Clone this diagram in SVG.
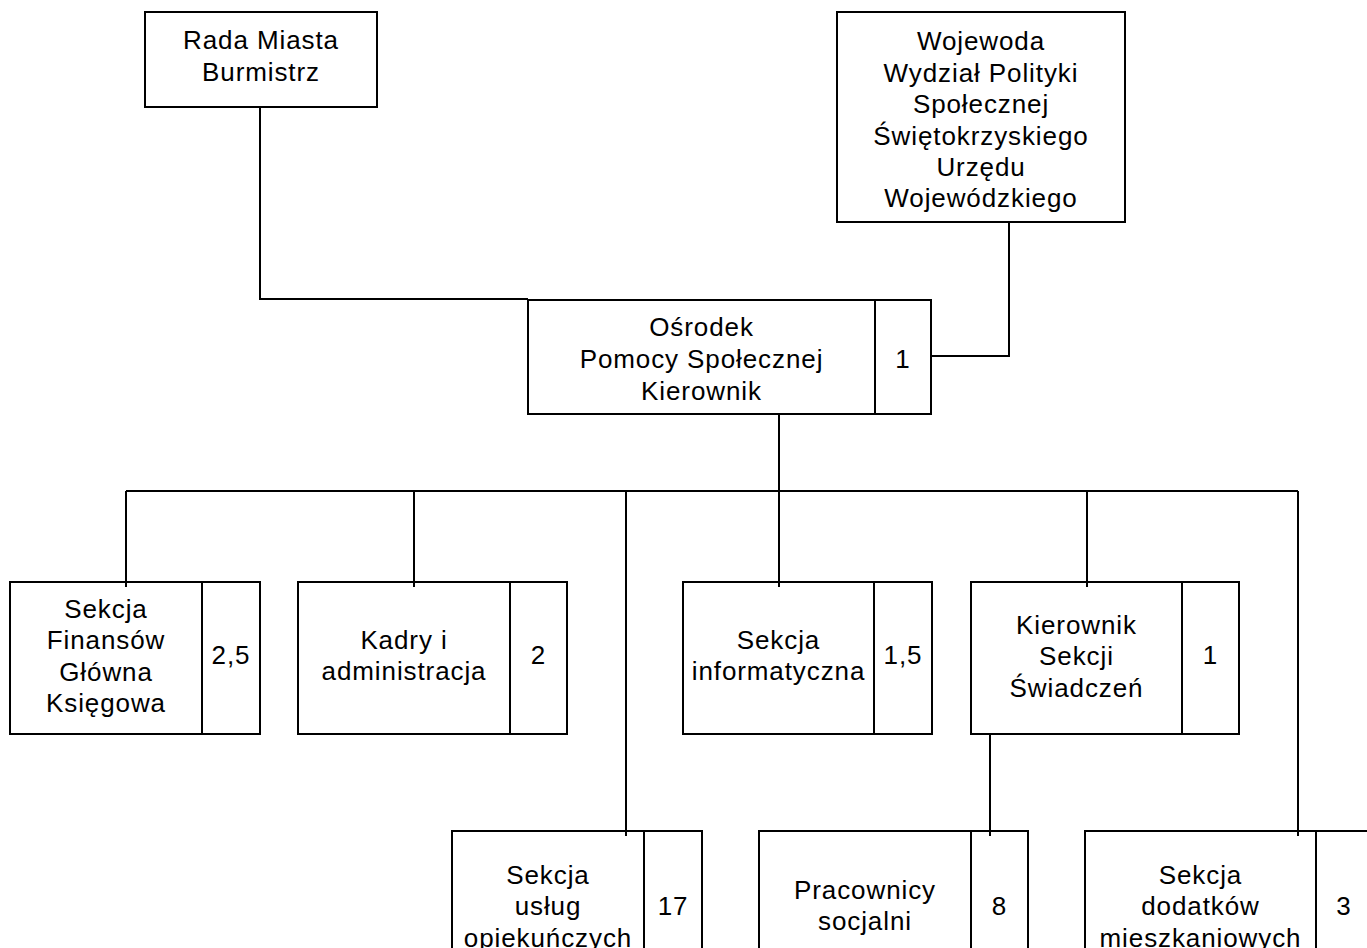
<svg xmlns="http://www.w3.org/2000/svg" width="1367" height="948" viewBox="0 0 1367 948">
<style>
.box{fill:#fff;stroke:#000;stroke-width:2}
.div{stroke:#000;stroke-width:2}
.t{font-family:"Liberation Sans",Arial,sans-serif;font-size:26px;letter-spacing:0.9px;text-anchor:middle;fill:#000}
.c{fill:none;stroke:#000;stroke-width:2}
</style>
<rect width="1367" height="948" fill="#fff"/>
<g id="rada">
<rect class="box" x="145" y="12" width="232" height="95"/>
<text class="t" x="261" y="49">Rada Miasta</text>
<text class="t" x="261" y="81">Burmistrz</text>
</g>
<g id="wojewoda">
<rect class="box" x="837" y="12" width="288" height="210"/>
<text class="t" x="981" y="50">Wojewoda</text>
<text class="t" x="981" y="81.5">Wydział Polityki</text>
<text class="t" x="981" y="113">Społecznej</text>
<text class="t" x="981" y="144.5">Świętokrzyskiego</text>
<text class="t" x="981" y="176">Urzędu</text>
<text class="t" x="981" y="207">Wojewódzkiego</text>
</g>
<g id="osrodek">
<rect class="box" x="528" y="300" width="403" height="114"/>
<line class="div" x1="875" y1="300" x2="875" y2="414"/>
<text class="t" x="701.5" y="335.5">Ośrodek</text>
<text class="t" x="701.5" y="367.5">Pomocy Społecznej</text>
<text class="t" x="701.5" y="399.5">Kierownik</text>
<text class="t" x="903" y="368">1</text>
</g>
<g id="finanse">
<rect class="box" x="10" y="582" width="250" height="152"/>
<line class="div" x1="202" y1="582" x2="202" y2="734"/>
<text class="t" x="106" y="617.5">Sekcja</text>
<text class="t" x="106" y="649">Finansów</text>
<text class="t" x="106" y="680.5">Główna</text>
<text class="t" x="106" y="712">Księgowa</text>
<text class="t" x="231" y="664">2,5</text>
</g>
<g id="kadry">
<rect class="box" x="298" y="582" width="269" height="152"/>
<line class="div" x1="510" y1="582" x2="510" y2="734"/>
<text class="t" x="404" y="649">Kadry i</text>
<text class="t" x="404" y="680">administracja</text>
<text class="t" x="538.5" y="664">2</text>
</g>
<g id="informatyczna">
<rect class="box" x="683" y="582" width="249" height="152"/>
<line class="div" x1="874" y1="582" x2="874" y2="734"/>
<text class="t" x="778.5" y="649">Sekcja</text>
<text class="t" x="778.5" y="680">informatyczna</text>
<text class="t" x="903" y="664">1,5</text>
</g>
<g id="swiadczenia">
<rect class="box" x="971" y="582" width="268" height="152"/>
<line class="div" x1="1182" y1="582" x2="1182" y2="734"/>
<text class="t" x="1076.5" y="633.5">Kierownik</text>
<text class="t" x="1076.5" y="665">Sekcji</text>
<text class="t" x="1076.5" y="696.5">Świadczeń</text>
<text class="t" x="1210.5" y="664">1</text>
</g>
<g id="uslugi">
<rect class="box" x="452" y="831" width="250" height="130"/>
<line class="div" x1="644" y1="831" x2="644" y2="961"/>
<text class="t" x="548" y="883.5">Sekcja</text>
<text class="t" x="548" y="915">usług</text>
<text class="t" x="548" y="946.5">opiekuńczych</text>
<text class="t" x="673" y="915">17</text>
</g>
<g id="pracownicy">
<rect class="box" x="759" y="831" width="269" height="130"/>
<line class="div" x1="971" y1="831" x2="971" y2="961"/>
<text class="t" x="865" y="899">Pracownicy</text>
<text class="t" x="865" y="930">socjalni</text>
<text class="t" x="999.5" y="914.5">8</text>
</g>
<g id="dodatki">
<rect class="box" x="1085" y="831" width="288" height="130"/>
<line class="div" x1="1316" y1="831" x2="1316" y2="961"/>
<text class="t" x="1200.5" y="883.5">Sekcja</text>
<text class="t" x="1200.5" y="915">dodatków</text>
<text class="t" x="1200.5" y="946.5">mieszkaniowych</text>
<text class="t" x="1344" y="915">3</text>
</g>
<g id="connectors">
<polyline class="c" points="260,107 260,299 528,299"/>
<polyline class="c" points="1009,222 1009,356 931,356"/>
<line class="c" x1="779" y1="414" x2="779" y2="587"/>
<line class="c" x1="126" y1="491" x2="1298" y2="491"/>
<line class="c" x1="126" y1="491" x2="126" y2="587"/>
<line class="c" x1="414" y1="491" x2="414" y2="587"/>
<line class="c" x1="626" y1="491" x2="626" y2="836"/>
<line class="c" x1="1087" y1="491" x2="1087" y2="587"/>
<line class="c" x1="1298" y1="491" x2="1298" y2="836"/>
<line class="c" x1="990" y1="734" x2="990" y2="836"/>
</g>
</svg>
